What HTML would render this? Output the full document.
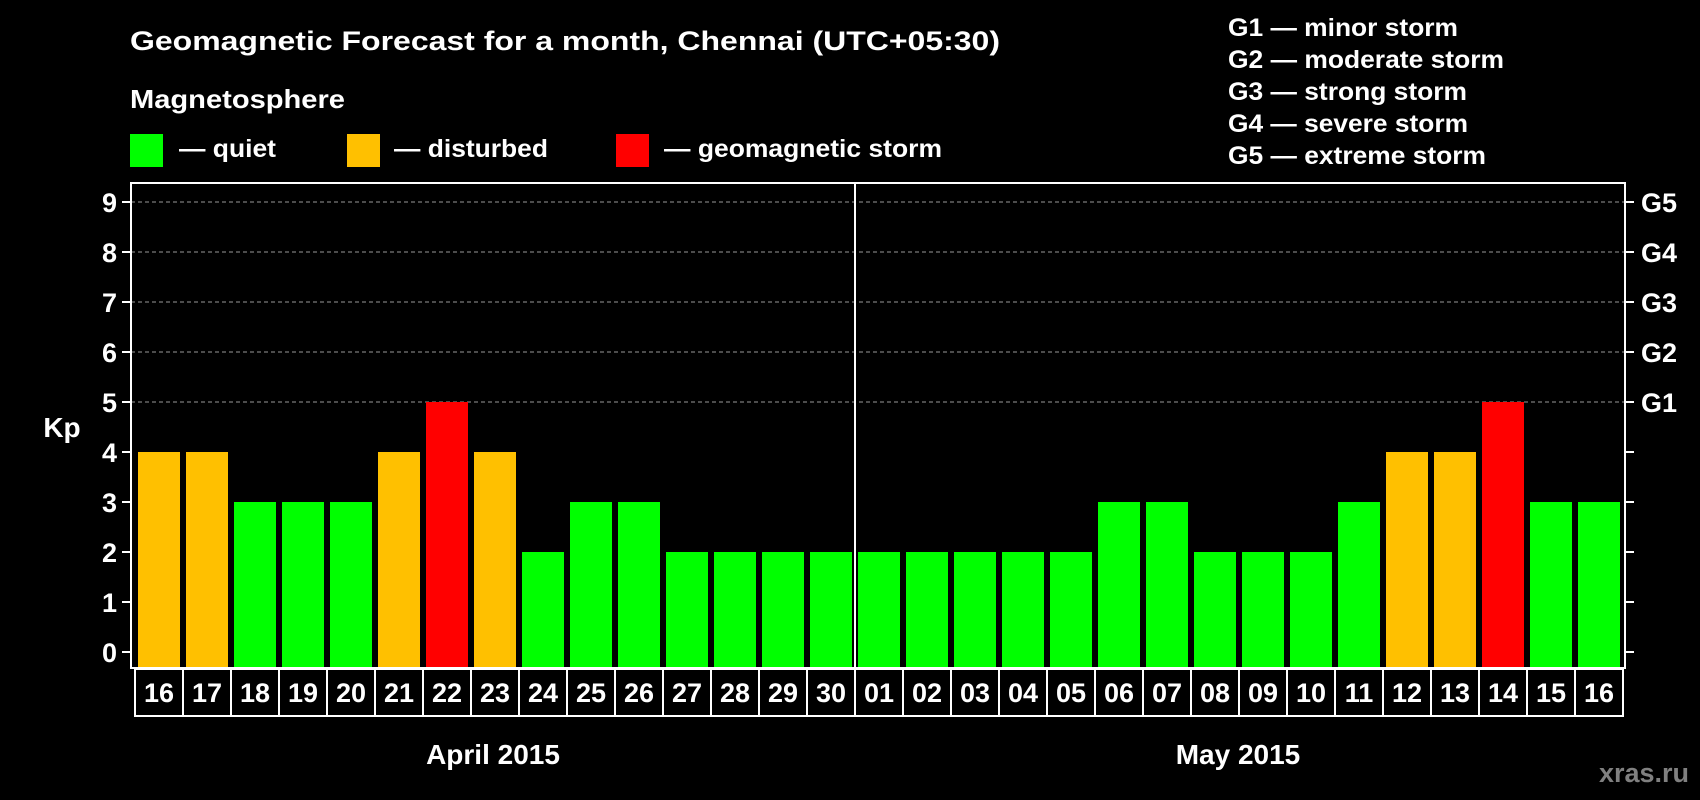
<!DOCTYPE html>
<html><head><meta charset="utf-8"><style>
html,body{margin:0;padding:0;background:#000;}
svg{display:block;font-family:"Liberation Sans",Arial,sans-serif;font-weight:bold;}
</style></head><body>
<svg id="chart" width="1700" height="800" viewBox="0 0 1700 800" xmlns="http://www.w3.org/2000/svg">
<rect width="1700" height="800" fill="#000"/>
<text x="130" y="50" fill="#fff" font-size="27" textLength="870" lengthAdjust="spacingAndGlyphs">Geomagnetic Forecast for a month, Chennai (UTC+05:30)</text>
<text x="130" y="108" fill="#fff" font-size="26" textLength="215" lengthAdjust="spacingAndGlyphs">Magnetosphere</text>
<g><rect x="130" y="134" width="33" height="33" fill="#00ff00"/><text x="179" y="157" fill="#fff" font-size="25" textLength="97" lengthAdjust="spacingAndGlyphs">— quiet</text></g>
<g><rect x="347" y="134" width="33" height="33" fill="#ffc000"/><text x="394" y="157" fill="#fff" font-size="25" textLength="154" lengthAdjust="spacingAndGlyphs">— disturbed</text></g>
<g><rect x="616" y="134" width="33" height="33" fill="#ff0000"/><text x="664" y="157" fill="#fff" font-size="25" textLength="278" lengthAdjust="spacingAndGlyphs">— geomagnetic storm</text></g>
<g fill="#fff" font-size="25">
<text x="1228" y="36" textLength="230" lengthAdjust="spacingAndGlyphs">G1 — minor storm</text>
<text x="1228" y="68" textLength="276" lengthAdjust="spacingAndGlyphs">G2 — moderate storm</text>
<text x="1228" y="100" textLength="239" lengthAdjust="spacingAndGlyphs">G3 — strong storm</text>
<text x="1228" y="132" textLength="240" lengthAdjust="spacingAndGlyphs">G4 — severe storm</text>
<text x="1228" y="164" textLength="258" lengthAdjust="spacingAndGlyphs">G5 — extreme storm</text>
</g>
<g id="grid"></g>
<g id="bars"></g>
<rect x="131" y="183" width="1494" height="485" fill="none" stroke="#fff" stroke-width="2"/>
<line x1="855" y1="183" x2="855" y2="668" stroke="#fff" stroke-width="2"/>
<g id="axes"></g>
<g id="days"></g>
<text x="62" y="437" fill="#fff" font-size="28" text-anchor="middle">Kp</text>
<text x="493" y="764" fill="#fff" font-size="28" text-anchor="middle">April 2015</text>
<text x="1238" y="764" fill="#fff" font-size="28" text-anchor="middle">May 2015</text>
<text x="1689" y="782" fill="#808080" font-size="27" text-anchor="end">xras.ru</text>
</svg>
<script>
const days = ["16","17","18","19","20","21","22","23","24","25","26","27","28","29","30","01","02","03","04","05","06","07","08","09","10","11","12","13","14","15","16"];
const kp = [4,4,3,3,3,4,5,4,2,3,3,2,2,2,2,2,2,2,2,2,3,3,2,2,2,3,4,4,5,3,3];
const yTicks = ["0","1","2","3","4","5","6","7","8","9"];
const gLabels = ["G1","G2","G3","G4","G5"];
const NS="http://www.w3.org/2000/svg";
const cellX0=135, cellW=48, y0=652, unit=50, plotBottom=668;
const xScale=i=>cellX0+i*cellW;
const yScale=v=>y0-v*unit;
function mk(tag,attrs,parent){const e=document.createElementNS(NS,tag);for(const k in attrs)e.setAttribute(k,attrs[k]);parent.appendChild(e);return e;}
const grid=document.getElementById('grid'),bars=document.getElementById('bars'),axes=document.getElementById('axes'),dl=document.getElementById('days');
yTicks.forEach((t,i)=>{
  const y=yScale(+t);
  if(+t>=5){const g=mk('line',{x1:131,x2:1625,y1:y,y2:y,stroke:'#999','stroke-width':1,'stroke-dasharray':'4,3'},grid);
  
  }
  const tl=mk('line',{x1:122,x2:131,y1:y,y2:y,stroke:'#fff','stroke-width':2},axes);
  
  
  const tr=mk('line',{x1:1625,x2:1634,y1:y,y2:y,stroke:'#fff','stroke-width':2},axes);
  
  
  const tx=mk('text',{x:117,y:y+10,fill:'#fff','font-size':27,'text-anchor':'end'},axes);
  tx.textContent=t;
  
  
});
gLabels.forEach((g,i)=>{
  const t=mk('text',{x:1641,y:yScale(5+i)+10,fill:'#fff','font-size':27},axes);
  t.textContent=g;
  
  
});
kp.forEach((v,i)=>{
  const c=v>=5?'#ff0000':(v===4?'#ffc000':'#00ff00');
  const r=mk('rect',{x:xScale(i)+3,y:yScale(v),width:42,height:plotBottom-yScale(v),fill:c},bars);
  
  
});
days.forEach((d,i)=>{
  const r=mk('rect',{x:xScale(i),y:669,width:cellW,height:47,fill:'none',stroke:'#fff','stroke-width':2},dl);
  
  
  const t=mk('text',{x:xScale(i)+cellW/2,y:702,fill:'#fff','font-size':27,'text-anchor':'middle'},dl);
  t.textContent=d;
  
  
});
</script>
</body></html>
